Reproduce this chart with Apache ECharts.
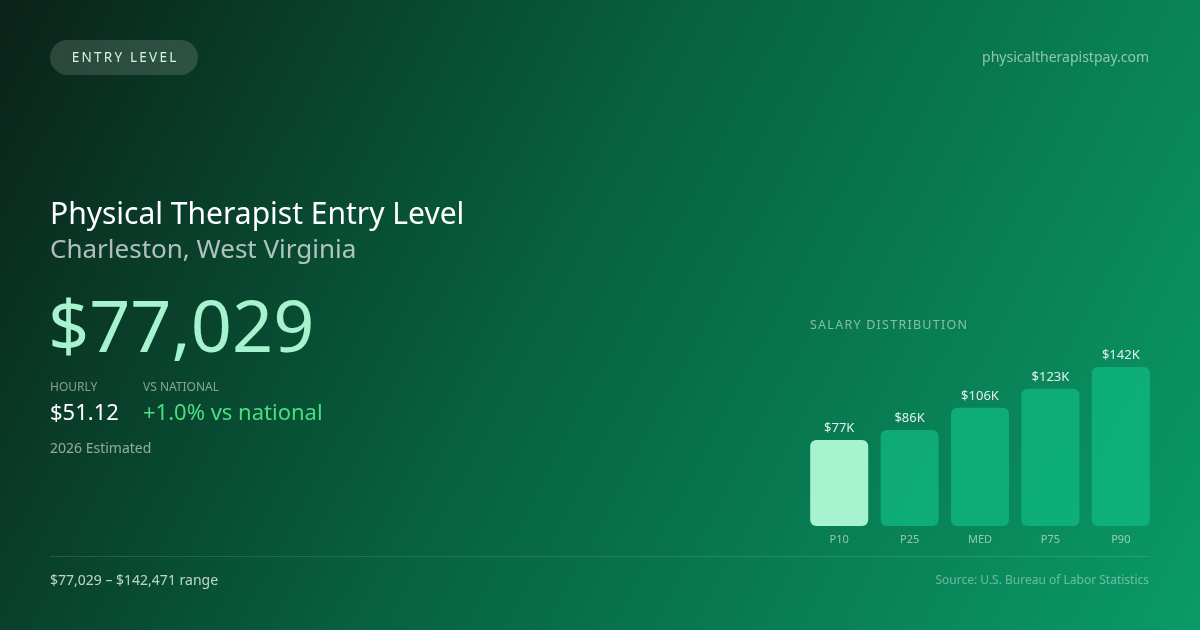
<!DOCTYPE html>
<html>
<head>
<meta charset="utf-8">
<script src="https://cdn.jsdelivr.net/npm/echarts@6/dist/echarts.min.js"></script>
<style>
html,body{margin:0;padding:0;background:#0b3a2a;}
#c{width:1200px;height:630px;}
</style>
</head>
<body>
<div id="c"></div>
<script>
const categories = ['P10', 'P25', 'MED', 'P75', 'P90'];
const salaryK = [77.029, 86, 106, 123, 142.471];
const badgeText = 'ENTRY LEVEL';
const siteText = 'physicaltherapistpay.com';
const titleText = 'Physical Therapist Entry Level';
const subtitleText = 'Charleston, West Virginia';
const annualText = '$77,029';
const hourlyText = '$51.12';
const nationalText = '+1.0% vs national';
const estimateText = '2026 Estimated';
const rangeText = '$77,029 – $142,471 range';
const sourceText = 'Source: U.S. Bureau of Labor Statistics';

const FONT = '"Noto Sans", "Open Sans", sans-serif';
const chart = echarts.init(document.getElementById('c'), null, {renderer: 'canvas'});

function spaced(s, sep) { return s.split('').join(sep); }
function txt(x, y, text, size, color, align, weight) {
  return {
    type: 'text', x: x, y: y, silent: true,
    style: {
      text: text, fontSize: size, fill: color, fontFamily: FONT,
      fontWeight: weight || 'normal',
      textAlign: align || 'left', textVerticalAlign: 'middle'
    }
  };
}

const option = {
  backgroundColor: {
    type: 'linear', x: 0, y: 0, x2: 1, y2: 1,
    colorStops: [
      {offset: 0, color: '#0b2219'},
      {offset: 0.45, color: '#07613f'},
      {offset: 1, color: '#0a9a68'}
    ]
  },
  animation: false,
  grid: {left: 804, right: 44, top: 367, bottom: 104},
  xAxis: {
    type: 'category', data: categories,
    axisLine: {show: false}, axisTick: {show: false},
    axisLabel: {color: 'rgba(255,255,255,0.55)', fontSize: 11, margin: 8, fontFamily: FONT}
  },
  yAxis: {
    type: 'value', min: 0, max: salaryK[salaryK.length - 1],
    show: false, splitLine: {show: false}
  },
  series: [{
    type: 'bar',
    data: salaryK.map((v, i) => ({
      value: v,
      itemStyle: {color: i === 0 ? '#a7f3d0' : 'rgba(16,185,129,0.75)'}
    })),
    barWidth: 58,
    itemStyle: {borderRadius: 6},
    label: {
      show: true, position: 'top', distance: 5,
      color: 'rgba(255,255,255,0.88)', fontSize: 13, fontFamily: FONT,
      formatter: p => '$' + Math.round(p.value) + 'K'
    }
  }],
  graphic: [
    {type: 'rect', silent: true, shape: {x: 50, y: 40, width: 148, height: 35, r: 17.5},
     style: {fill: 'rgba(255,255,255,0.14)'}},
    txt(124, 58, spaced(badgeText, '\u2009'), 13.5, '#d4f5e4', 'center'),
    txt(1149, 58, siteText, 14, 'rgba(255,255,255,0.55)', 'right'),
    txt(50, 215, titleText, 30, '#ffffff'),
    txt(50, 251, subtitleText, 26, 'rgba(255,255,255,0.68)'),
    txt(48, 331, annualText, 72, '#a7f3d0'),
    txt(50, 388, 'HOURLY', 12, 'rgba(255,255,255,0.5)'),
    txt(143, 388, 'VS NATIONAL', 12, 'rgba(255,255,255,0.5)'),
    txt(50, 414, hourlyText, 22, '#ffffff'),
    txt(143, 414, nationalText, 22, '#4ade80'),
    txt(50, 449, estimateText, 14, 'rgba(255,255,255,0.55)'),
    txt(810, 325, spaced('SALARY DISTRIBUTION', '\u200A'), 12.5, 'rgba(255,255,255,0.5)'),
    {type: 'rect', silent: true, shape: {x: 50, y: 556, width: 1100, height: 1},
     style: {fill: 'rgba(255,255,255,0.12)'}},
    txt(50, 581, rangeText, 14, 'rgba(255,255,255,0.75)'),
    txt(1149, 581, sourceText, 12, 'rgba(255,255,255,0.4)', 'right')
  ]
};
chart.setOption(option);
</script>
</body>
</html>
